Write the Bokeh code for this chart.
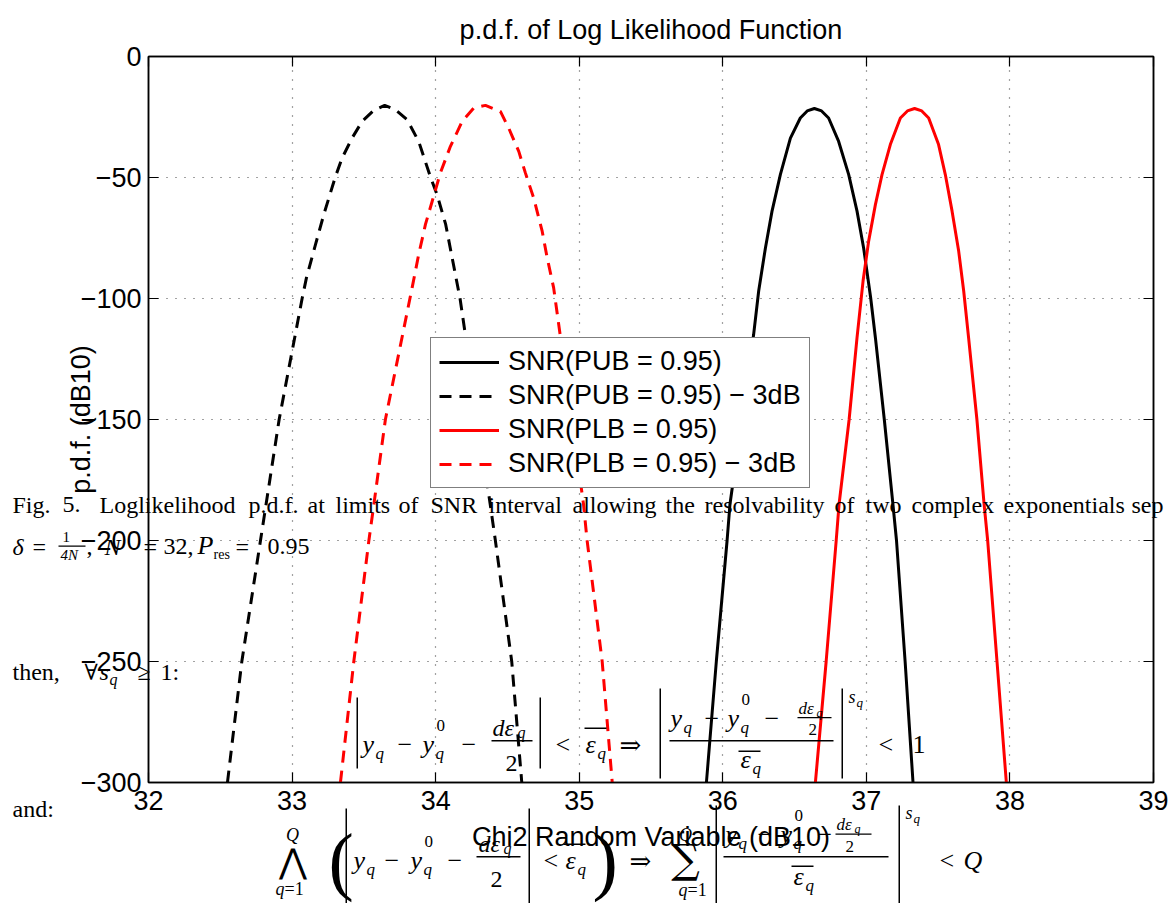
from bokeh.plotting import figure
from bokeh.layouts import column
from bokeh.models import Range1d, FixedTicker, LinearAxis, Legend, LegendItem, Label, BoxAnnotation
from bokeh.embed import file_html
from bokeh.resources import INLINE

# ---------------- data ----------------
x_ticks = [32, 33, 34, 35, 36, 37, 38, 39]
y_ticks = [0, -50, -100, -150, -200, -250, -300]
y_tick_labels = ["0", "\u221250", "\u2212100", "\u2212150", "\u2212200", "\u2212250", "\u2212300"]

series_names = ["SNR(PUB = 0.95)", "SNR(PUB = 0.95) \u2212 3dB",
                "SNR(PLB = 0.95)", "SNR(PLB = 0.95) \u2212 3dB"]

# SNR(PUB = 0.95)  -- black solid
pub_x = [35.886, 35.955, 36.03, 36.05, 36.215, 36.250, 36.297, 36.343, 36.401, 36.471, 36.54,
         36.588, 36.638, 36.688, 36.737, 36.807, 36.877, 36.935, 36.981, 37.03, 37.063,
         37.125, 37.185, 37.21, 37.27, 37.325]
pub_y = [-300, -250, -200, -185, -114.8, -96.9, -79.1, -63.9, -48.8, -33.7, -25.4,
         -22.5, -21.5, -22.5, -25.4, -35.1, -48.8, -63.9, -79.1, -99.7, -116.2,
         -150, -185, -200, -250, -300]

# SNR(PUB = 0.95) - 3dB  -- black dashed
pub3_x = [32.55, 32.65, 32.78, 32.91, 33.07, 33.10, 33.163, 33.221, 33.30, 33.349, 33.418,
          33.488, 33.57, 33.645, 33.72, 33.801, 33.882, 33.965, 34.010, 34.07, 34.115, 34.17,
          34.38, 34.416, 34.53, 34.60]
pub3_y = [-300, -250, -200, -150, -100, -91.5, -77.7, -65.3, -50, -41.9, -33.7,
          -26.8, -22.2, -20.2, -22.0, -26.1, -35.1, -50, -57.1, -69.4, -83.2, -100,
          -185, -200, -250, -300]

# SNR(PLB = 0.95)  -- red solid
plb_x = [36.645, 36.72, 36.79, 36.81, 36.88, 36.935, 36.977, 37.016, 37.063, 37.109, 37.167,
         37.237, 37.286, 37.336, 37.386, 37.434, 37.503, 37.550, 37.597, 37.643, 37.678,
         37.712, 37.77, 37.82, 37.845, 37.91, 37.975]
plb_y = [-300, -250, -200, -185, -150, -116.2, -92.8, -76.3, -61.2, -48.8, -36.4,
         -25.4, -22.5, -21.5, -22.5, -25.4, -36.4, -48.8, -63.9, -80.4, -96.9,
         -116.2, -150, -185, -200, -250, -300]

# SNR(PLB = 0.95) - 3dB  -- red dashed
plb3_x = [33.337, 33.43, 33.535, 33.57, 33.65, 33.836, 33.882, 33.929, 33.976, 34.033, 34.103,
          34.185, 34.265, 34.347, 34.451, 34.509, 34.579, 34.625, 34.683, 34.742, 34.777,
          34.822, 35.03, 35.055, 35.16, 35.23]
plb3_y = [-300, -250, -200, -185, -150, -95.6, -81.8, -69.4, -59.8, -48.1, -37.1,
          -26.8, -21.3, -20.2, -22.7, -29.6, -39.2, -48.1, -58.5, -72.2, -83.2,
          -95.6, -185, -200, -250, -300]

# ---------------- main figure ----------------
W, H = 1168, 903
FL, FR, FT, FB = 148, 1153, 55, 782   # frame edges in page pixels
p = figure(width=W, height=H, x_range=Range1d(32, 39), y_range=Range1d(-300, 0),
           output_backend="svg", toolbar_location=None,
           title="p.d.f. of Log Likelihood Function",
           x_axis_label="Chi2 Random Variable (dB10)", y_axis_label="p.d.f. (dB10)",
           min_border_left=FL, min_border_right=W - FR, min_border_top=FT, min_border_bottom=H - FB)
p.frame_align = False
p.background_fill_color = "white"
p.border_fill_color = "white"
p.outline_line_color = "black"
p.outline_line_width = 1.5

p.title.text_font = "Liberation Sans"
p.title.text_font_size = "27px"
p.title.text_font_style = "normal"
p.title.align = "center"
p.title.text_color = "black"
p.title.standoff = 24


def style_axis(ax):
    ax.major_tick_in = 10
    ax.major_tick_out = 0
    ax.minor_tick_in = 0
    ax.minor_tick_out = 0
    ax.axis_line_width = 1.5
    ax.axis_line_color = "black"
    ax.major_tick_line_color = "black"
    ax.major_tick_line_width = 1.2
    ax.major_label_text_font = "Liberation Sans"
    ax.major_label_text_font_size = "27px"
    ax.major_label_text_color = "black"
    ax.axis_label_text_font = "Liberation Sans"
    ax.axis_label_text_font_size = "27px"
    ax.axis_label_text_font_style = "normal"
    ax.axis_label_text_color = "black"


xa = p.xaxis[0]
ya = p.yaxis[0]
xa.ticker = FixedTicker(ticks=x_ticks)
ya.ticker = FixedTicker(ticks=y_ticks)
ya.major_label_overrides = {t: s for t, s in zip(y_ticks, y_tick_labels)}
style_axis(xa)
style_axis(ya)
xa.major_label_standoff = 8
ya.major_label_standoff = 7
ya.axis_label_standoff = -18
xa.axis_label_standoff = 9

top_ax = LinearAxis(ticker=FixedTicker(ticks=x_ticks),
                    major_label_overrides={t: "" for t in x_ticks})
right_ax = LinearAxis(ticker=FixedTicker(ticks=y_ticks),
                      major_label_overrides={t: "" for t in y_ticks})
for ax in (top_ax, right_ax):
    style_axis(ax)
    ax.major_label_text_font_size = "1px"
    ax.major_label_standoff = 0
p.add_layout(top_ax, "above")
p.add_layout(right_ax, "right")

p.xgrid.ticker = FixedTicker(ticks=x_ticks)
p.ygrid.ticker = FixedTicker(ticks=y_ticks)
p.grid.grid_line_color = "#444444"
p.grid.grid_line_dash = "1 8"
p.grid.grid_line_width = 1.2

r1 = p.line(pub_x, pub_y, line_color="black", line_width=3)
r2 = p.line(pub3_x, pub3_y, line_color="black", line_width=3, line_dash="12 8")
r3 = p.line(plb_x, plb_y, line_color="red", line_width=3)
r4 = p.line(plb3_x, plb3_y, line_color="red", line_width=3, line_dash="12 8")

legend = Legend(items=[LegendItem(label=n, renderers=[r]) for n, r in zip(series_names, [r1, r2, r3, r4])],
                location=(430 - FL, FB - 488))
legend.label_text_font = "Liberation Sans"
legend.label_text_font_size = "27px"
legend.label_text_color = "black"
legend.glyph_width = 60
legend.glyph_height = 30
legend.label_height = 30
legend.label_width = 290
legend.label_standoff = 9
legend.padding = 8
legend.spacing = 3
legend.margin = 0
legend.border_line_color = "black"
legend.border_line_width = 1.5
legend.background_fill_color = "white"
legend.background_fill_alpha = 1.0
p.add_layout(legend, "center")

# ---------------- transparent overlay with the paper text ----------------
q = figure(width=W, height=H, x_range=Range1d(0, 1), y_range=Range1d(0, 1),
           output_backend="svg", toolbar_location=None,
           x_axis_location=None, y_axis_location=None,
           min_border_left=0, min_border_right=0, min_border_top=0, min_border_bottom=0,
           margin=(-H, 0, 0, 0))
q.frame_align = False
q.background_fill_color = None
q.border_fill_color = None
q.outline_line_color = None
q.grid.visible = False


def T(x, y, s, size=24, italic=False, font="Liberation Serif", align="left"):
    dy = 0.29 * size  # baseline correction, proportional to the font size
    q.add_layout(Label(x=x, y=H - y + dy, x_units="screen", y_units="screen", text=s,
                       text_font=font, text_font_size=f"{size}px",
                       text_font_style="italic" if italic else "normal",
                       text_baseline="alphabetic", text_align=align, text_color="black"))


def B(x0, x1, y0, y1):
    q.add_layout(BoxAnnotation(left=x0, right=x1, top=H - y0, bottom=H - y1,
                               left_units="screen", right_units="screen",
                               top_units="screen", bottom_units="screen",
                               fill_color="black", fill_alpha=1.0, line_color=None))


caption_words = [("Fig.", 12), ("5.", 62), ("Loglikelihood", 99), ("p.d.f.", 248), ("at", 307),
                 ("limits", 335), ("of", 398), ("SNR", 430), ("interval", 488), ("allowing", 572),
                 ("the", 665), ("resolvability", 704), ("of", 834), ("two", 865), ("complex", 911),
                 ("exponentials", 1003), ("sep", 1131)]
for w, x in caption_words:
    T(x, 511, w, 24)

# second caption line
T(12, 553, "\u03b4", 24, True)
T(32, 553, "=", 24)
T(62, 541, "1", 15)
B(58, 85, 545, 546.3)
T(60, 559, "4N", 15, True)
T(86, 553, ",", 24)
T(104, 553, "N", 24, True)
T(143, 553, "=", 24)
T(163, 553, "32,", 24)
T(197, 553, "P", 26, True)
T(213, 558, "res", 14)
T(235, 553, "=", 24)
T(267, 553, "0.95", 24)

# then line
T(12, 678, "then,", 24)
T(84, 678, "\u2200", 22, font="DejaVu Serif")
T(99, 678, "s", 24, True)
T(109, 684, "q", 16, True)
T(137, 678, "\u2265", 24)
T(160, 678, "1:", 24)

T(12, 815, "and:", 24)

# equation 1
B(356, 357.5, 697, 768)
T(362, 752, "y", 26, True)
T(375, 758, "q", 17, True)
T(397, 752, "\u2212", 26)
T(422, 752, "y", 26, True)
T(435, 758, "q", 17, True)
T(436, 730, "0", 17)
T(461, 752, "\u2212", 26)
T(492, 734, "d\u03b5", 24, True)
T(517, 737, "q", 16, True)
B(491, 532, 739.5, 741)
T(505, 770, "2", 24)
B(539, 540.5, 697, 768)
T(555, 752, "<", 26)
T(585, 752, "\u03b5", 26, True)
T(597, 758, "q", 17, True)
B(584, 606, 727, 728.5)
T(619, 752, "\u21d2", 26, font="DejaVu Serif")
B(659, 660.5, 688, 778)
T(670, 726, "y", 26, True)
T(683, 732, "q", 17, True)
T(704, 726, "\u2212", 26)
T(727, 726, "y", 26, True)
T(740, 732, "q", 17, True)
T(741, 704, "0", 17)
T(764, 726, "\u2212", 26)
T(798, 713, "d\u03b5", 17, True)
T(816, 716, "q", 12, True)
B(797, 831, 716.5, 717.7)
T(808, 734, "2", 17)
B(669, 833, 739.5, 741)
T(740, 767, "\u03b5", 26, True)
T(752, 773, "q", 17, True)
B(738, 760, 750, 751.5)
B(841, 842.5, 688, 778)
T(848, 702, "s", 18, True)
T(856, 706, "q", 13, True)
T(878, 752, "<", 26)
T(912, 752, "1", 26)

# equation 2
T(292, 840, "Q", 18, True, align="center")
T(292, 870, "\u22c0", 34, font="DejaVu Serif", align="center")
T(284, 894, "q", 18, True, align="right")
T(284, 894, "=1", 18)
T(328, 882, "(", 76)
B(345, 346.5, 808, 903)
T(353, 868, "y", 26, True)
T(366, 874, "q", 17, True)
T(384, 868, "\u2212", 26)
T(410, 868, "y", 26, True)
T(423, 874, "q", 17, True)
T(424, 846, "0", 17)
T(447, 868, "\u2212", 26)
T(478, 850, "d\u03b5", 24, True)
T(503, 853, "q", 16, True)
B(476, 520, 855.5, 857)
T(490, 886, "2", 24)
B(528, 529.5, 808, 903)
T(543, 868, "<", 26)
T(565, 868, "\u03b5", 26, True)
T(577, 874, "q", 17, True)
B(563, 585, 843, 844.5)
T(592, 882, ")", 76)
T(629, 868, "\u21d2", 26, font="DejaVu Serif")
T(685, 840, "Q", 18, True, align="center")
T(685, 870, "\u2211", 40, font="DejaVu Serif", align="center")
T(687, 895, "q", 18, True, align="right")
T(687, 895, "=1", 18)
B(715, 716.5, 805, 903)
T(725, 842, "y", 26, True)
T(738, 848, "q", 17, True)
T(757, 842, "\u2212", 26)
T(780, 842, "y", 26, True)
T(793, 848, "q", 17, True)
T(794, 820, "0", 17)
T(817, 842, "\u2212", 26)
T(836, 829, "d\u03b5", 17, True)
T(854, 832, "q", 12, True)
B(835, 871, 833, 834.2)
T(845, 851, "2", 17)
B(723, 888, 855.5, 857)
T(793, 884, "\u03b5", 26, True)
T(805, 890, "q", 17, True)
B(791, 813, 865, 866.5)
B(898, 899.5, 805, 903)
T(905, 818, "s", 18, True)
T(913, 822, "q", 13, True)
T(939, 868, "<", 26)
T(963, 868, "Q", 26, True)

layout = column(p, q, spacing=0)
open("out.html", "w").write(file_html(layout, INLINE))
